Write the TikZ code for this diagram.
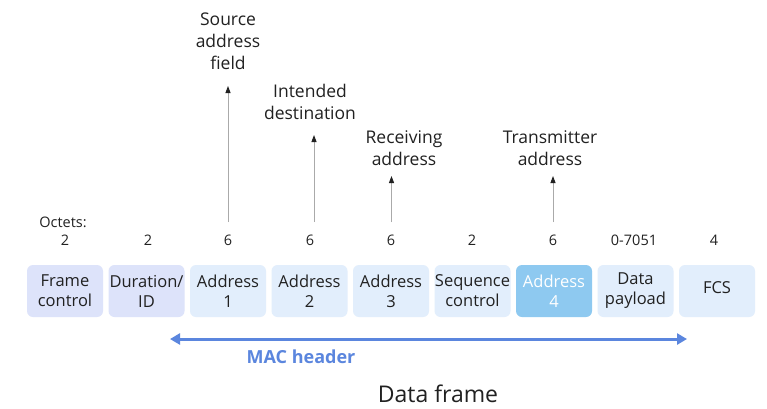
\documentclass[tikz,border=0pt]{standalone}
\usepackage{fontspec}
\setmainfont{Open Sans}
\usetikzlibrary{arrows.meta}
\definecolor{lav}{RGB}{221,227,250}
\definecolor{lblue}{RGB}{226,238,252}
\definecolor{midblue}{RGB}{142,201,240}
\definecolor{macblue}{RGB}{91,134,222}
\definecolor{txt}{RGB}{33,33,33}
\definecolor{pgray}{RGB}{170,170,170}
\begin{document}
\begin{tikzpicture}[x=1pt,y=-1pt,
  fieldbox/.style={rounded corners=6pt, minimum width=76pt, minimum height=52pt,
    inner sep=0pt, align=center, font=\fontsize{16.5}{20}\selectfont, text=txt},
  octet/.style={font=\fontsize{14.5}{17}\selectfont, text=txt},
  toplabel/.style={font=\fontsize{17.5}{22}\selectfont, text=txt, align=center, inner sep=0pt},
  pointer/.style={draw=pgray, line width=0.9pt, -{Triangle[length=7pt,width=5pt,fill=txt,color=txt]}},
  macarrow/.style={draw=macblue, line width=3pt, {Triangle[length=10pt,width=11pt]}-{Triangle[length=10pt,width=11pt]}}
]
\useasboundingbox[fill=white] (0,0) rectangle (767,408);

% field boxes
\node[fieldbox, fill=lav]   (b1) at (65,291)    {Frame\\control};
\node[fieldbox, fill=lav]   (b2) at (146.5,291) {Duration/\\ID};
\node[fieldbox, fill=lblue] (b3) at (228,291)   {Address\\1};
\node[fieldbox, fill=lblue] (b4) at (309.5,291) {Address\\2};
\node[fieldbox, fill=lblue] (b5) at (391,291)   {Address\\3};
\node[fieldbox, fill=lblue] (b6) at (472.5,291) {Sequence\\control};
\node[fieldbox, fill=midblue, text=white] (b7) at (554,291) {Address\\4};
\node[fieldbox, fill=lblue] (b8) at (635.5,291) {Data\\payload};
\node[fieldbox, fill=lblue, text=white] (b9) at (717,291) {};
\node[font=\fontsize{16.5}{20}\selectfont, text=txt] (fcs) at (717,288) {FCS};

% octets
\node[octet] (oct) at (63,222) {Octets:};
\node[octet] (n1) at (65,240)    {2};
\node[octet] (n2) at (148,240)   {2};
\node[octet] (n3) at (228,240)   {6};
\node[octet] (n4) at (310,240)   {6};
\node[octet] (n5) at (391,240)   {6};
\node[octet] (n6) at (472,240)   {2};
\node[octet] (n7) at (553,240)   {6};
\node[octet] (n8) at (634,240)   {0-7051};
\node[octet] (n9) at (714,240)   {4};

% top labels
\node[toplabel] (l1) at (228,41)  {Source\\address\\field};
\node[toplabel] (l2) at (310,102) {Intended\\destination};
\node[toplabel] (l3) at (404,148) {Receiving\\address};
\node[toplabel] (l4) at (550,148) {Transmitter\\address};

% pointer arrows
\coordinate (s1) at (228,222); \coordinate (t1) at (228,86);
\coordinate (s2) at (314,222); \coordinate (t2) at (314,135);
\coordinate (s3) at (391.5,222); \coordinate (t3) at (391.5,176);
\coordinate (s4) at (553,222); \coordinate (t4) at (553,176);
\draw[pointer] (s1) -- (t1);
\draw[pointer] (s2) -- (t2);
\draw[pointer] (s3) -- (t3);
\draw[pointer] (s4) -- (t4);

% MAC header
\coordinate (m1) at (170,339); \coordinate (m2) at (687,339);
\draw[macarrow] (m1) -- (m2);
\node[font=\fontsize{18}{20}\selectfont\bfseries, text=macblue] (mac) at (301,357) {MAC header};
\node[font=\fontsize{23}{26}\selectfont, text=txt] (df) at (438,394) {Data frame};
\end{tikzpicture}
\end{document}
